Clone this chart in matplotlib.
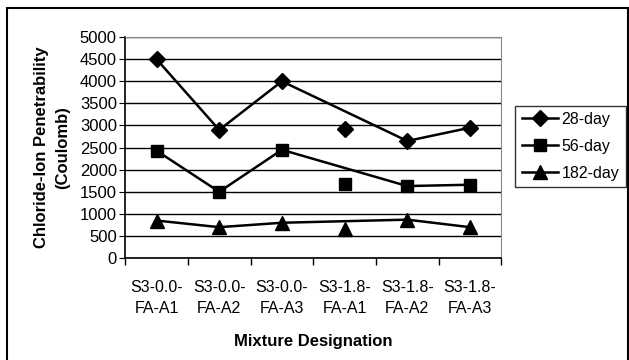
import matplotlib.pyplot as plt
import matplotlib.patches as patches
import numpy as np

plt.rcParams['font.family'] = ['Liberation Sans', 'DejaVu Sans']

mixes = ['S3-0.0-\nFA-A1', 'S3-0.0-\nFA-A2', 'S3-0.0-\nFA-A3',
         'S3-1.8-\nFA-A1', 'S3-1.8-\nFA-A2', 'S3-1.8-\nFA-A3']
day28 = [4500, 2900, 4000, 2920, 2650, 2950]
day56 = [2430, 1500, 2450, 1680, 1630, 1660]
day182 = [850, 700, 800, 650, 870, 700]

# the S3-1.8-FA-A1 point sits outside the connected line
linked = [0, 1, 2, 4, 5]
lone = [3]

fig = plt.figure(figsize=(6.29, 3.6), dpi=100)
ax = fig.add_axes([0.199, 0.283, 0.598, 0.614])

x = np.arange(len(mixes))
series = [(day28, 'D', 8.5, '28-day'), (day56, 's', 8.5, '56-day'), (day182, '^', 10, '182-day')]
for vals, mk, ms, lab in series:
    v = np.array(vals)
    ax.plot(x[linked], v[linked], color='black', lw=1.8, marker=mk, ms=ms, label=lab)
    ax.plot(x[lone], v[lone], ls='none', color='black', marker=mk, ms=ms)

ax.set_xlim(-0.5, len(mixes) - 0.5)
ax.set_ylim(0, 5000)
ax.set_yticks(range(0, 5001, 500))
ax.yaxis.grid(True, color='black', lw=1)
ax.set_axisbelow(True)

ax.set_xticks(x)
ax.set_xticklabels(mixes, fontsize=11.5, linespacing=1.45)
ax.tick_params(axis='x', length=0, pad=16)
ax.set_xticks(np.arange(-0.5, len(mixes)), minor=True)
ax.tick_params(axis='x', which='minor', length=5, direction='out', width=1)
ax.tick_params(axis='y', length=4, direction='out', labelsize=12, pad=2)

for s in ['top', 'right']:
    ax.spines[s].set_color('#888888')
for s in ['left', 'bottom']:
    ax.spines[s].set_color('black')
    ax.spines[s].set_linewidth(1.2)

ax.set_xlabel('Mixture Designation', fontsize=12, fontweight='bold', labelpad=13)
ax.set_ylabel('Chloride-Ion Penetrability\n(Coulomb)', fontsize=12, fontweight='bold',
              labelpad=7, linespacing=1.5)

leg = ax.legend(loc='upper left', bbox_to_anchor=(1.037, 0.69), fontsize=11.5,
                frameon=True, fancybox=False, edgecolor='black', borderpad=0.4,
                handlelength=2.3, handletextpad=0.2, labelspacing=0.75, borderaxespad=0)
leg.get_frame().set_linewidth(1)

fig.patches.append(patches.Rectangle((7 / 629, -10 / 360), 621 / 629, 362 / 360,
                                     transform=fig.transFigure, fill=False,
                                     edgecolor='black', lw=1.5))

fig.savefig('out.png', dpi=100)
